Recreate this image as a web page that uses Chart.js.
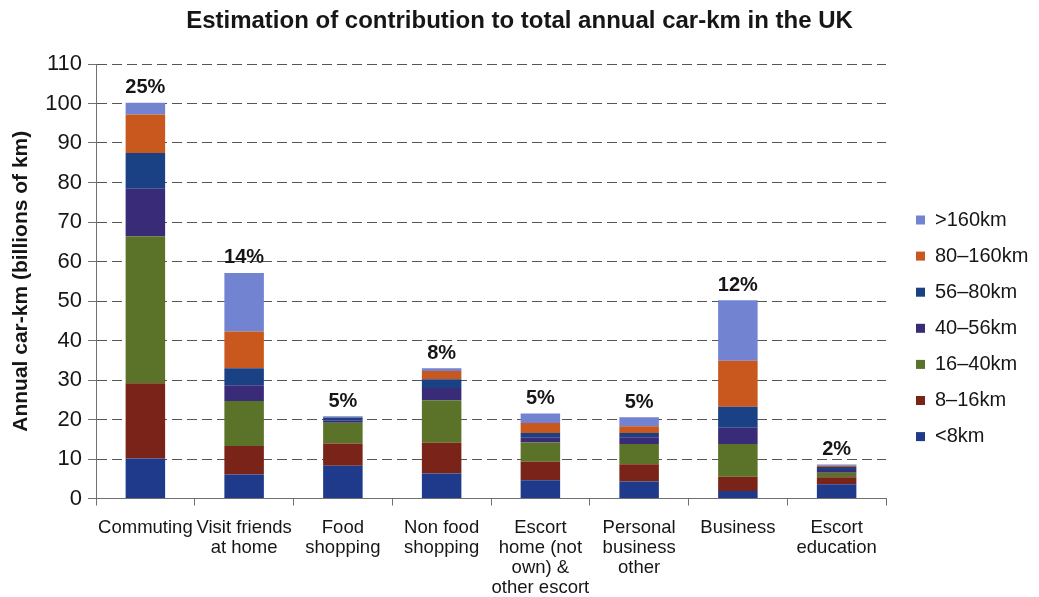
<!DOCTYPE html>
<html>
<head>
<meta charset="utf-8">
<title>Estimation of contribution to total annual car-km in the UK</title>
<script src="https://cdn.jsdelivr.net/npm/chart.js@4.4.1/dist/chart.umd.min.js"></script>
<style>
  html, body { margin: 0; padding: 0; background: #ffffff; }
  #wrap { width: 1039px; height: 597px; position: relative; }
</style>
</head>
<body>
<div id="wrap"><canvas id="c" width="1039" height="597"></canvas></div>
<script>
// Journey purposes (x categories), multi-line where the label wraps
const categories = [
  'Commuting',
  ['Visit friends', 'at home'],
  ['Food', 'shopping'],
  ['Non food', 'shopping'],
  ['Escort', 'home (not', 'own) &', 'other escort'],
  ['Personal', 'business', 'other'],
  'Business',
  ['Escort', 'education']
];

// Trip-length bands, bottom of the stack first
const bandLabels = ['<8km', '8–16km', '16–40km', '40–56km', '56–80km', '80–160km', '>160km'];
const bandColors = ['#1f3a8a', '#7a2419', '#5b7229', '#3a2b78', '#1b4185', '#c9581f', '#7283d2'];

// Annual car-km, billions of km, per purpose
const under8km   = [10.1, 6.1, 8.3, 6.3, 4.6, 4.3, 1.9, 3.6];
const km8to16    = [19.1, 7.2, 5.6, 7.8, 4.7, 4.4, 3.6, 1.8];
const km16to40   = [37.2, 11.4, 5.3, 10.8, 4.9, 5.1, 8.3, 1.1];
const km40to56   = [12.0, 4.0, 0.5, 3.1, 1.2, 1.7, 4.1, 0.7];
const km56to80   = [9.1, 4.3, 0.8, 2.2, 1.2, 1.1, 5.3, 0.8];
const km80to160  = [9.7, 9.3, 0.1, 2.1, 2.5, 1.7, 11.7, 0.3];
const over160km  = [3.0, 14.8, 0.2, 0.7, 2.4, 2.3, 15.3, 0.3];

// Share of total annual car-km, shown above each stack
const shareLabels = ['25%', '14%', '5%', '8%', '5%', '5%', '12%', '2%'];

// Value axis
const yMin = 0, yMax = 110, yStep = 10;

const bandValues = [under8km, km8to16, km16to40, km40to56, km56to80, km80to160, over160km];
const FONT = "'Liberation Sans', Arial, sans-serif";
const INK = '#161616';

const datasets = bandLabels.map((label, i) => ({
  label: label,
  data: bandValues[i],
  backgroundColor: bandColors[i],
  borderWidth: 0,
  barPercentage: 0.4,
  categoryPercentage: 1.0,
  stack: 'all'
}));

// Chart heading
const headline = {
  id: 'headline',
  afterDraw(chart) {
    const ctx = chart.ctx;
    ctx.save();
    ctx.font = 'bold 24px ' + FONT;
    ctx.fillStyle = INK;
    ctx.textAlign = 'center';
    ctx.textBaseline = 'middle';
    ctx.fillText('Estimation of contribution to total annual car-km in the UK', 519.5, 21);
    ctx.restore();
  }
};

// Percentage share above each stack
const shares = {
  id: 'shares',
  afterDatasetsDraw(chart) {
    const ctx = chart.ctx;
    const y = chart.scales.y;
    const topMeta = chart.getDatasetMeta(chart.data.datasets.length - 1);
    ctx.save();
    ctx.font = 'bold 20px ' + FONT;
    ctx.fillStyle = INK;
    ctx.textAlign = 'center';
    ctx.textBaseline = 'middle';
    shareLabels.forEach((txt, i) => {
      const total = bandValues.reduce((s, arr) => s + arr[i], 0);
      const x = topMeta.data[i].x;
      ctx.fillText(txt, x, y.getPixelForValue(total) - 15);
    });
    ctx.restore();
  }
};

// Key at the right, largest band first
const keyBox = {
  id: 'keyBox',
  afterDraw(chart) {
    const ctx = chart.ctx;
    const sets = chart.data.datasets;
    ctx.save();
    ctx.font = '20px ' + FONT;
    ctx.textAlign = 'left';
    ctx.textBaseline = 'middle';
    for (let k = 0; k < sets.length; k++) {
      const ds = sets[sets.length - 1 - k];
      const cy = 220 + k * 36.1;
      ctx.fillStyle = ds.backgroundColor;
      ctx.fillRect(916, cy - 4.5, 9, 9);
      ctx.fillStyle = INK;
      ctx.fillText(ds.label, 935, cy);
    }
    ctx.restore();
  }
};

new Chart(document.getElementById('c'), {
  type: 'bar',
  data: { labels: categories, datasets: datasets },
  options: {
    responsive: false,
    animation: false,
    devicePixelRatio: 1,
    layout: { padding: { top: 64, right: 153, bottom: 0, left: 0 } },
    plugins: {
      legend: { display: false },
      title: { display: false },
      tooltip: { enabled: false }
    },
    scales: {
      x: {
        stacked: true,
        offset: true,
        grid: {
          offset: true,
          drawOnChartArea: false,
          drawTicks: true,
          tickLength: 7,
          tickColor: '#707070',
          lineWidth: 1
        },
        border: { display: true, color: '#707070', width: 1 },
        ticks: {
          autoSkip: false,
          maxRotation: 0,
          minRotation: 0,
          padding: 12,
          color: INK,
          font: { family: FONT, size: 18.5, lineHeight: '20px' }
        },
        afterFit(scale) { scale.height = 98.5; }
      },
      y: {
        stacked: true,
        min: yMin,
        max: yMax,
        grid: {
          color: '#555555',
          lineWidth: 1,
          drawTicks: true,
          tickLength: 8,
          tickColor: '#707070'
        },
        border: { display: true, color: '#707070', width: 1, dash: [10, 5] },
        ticks: {
          stepSize: yStep,
          padding: 6,
          color: INK,
          font: { family: FONT, size: 22 }
        },
        title: {
          display: true,
          text: 'Annual car-km (billions of km)',
          color: INK,
          font: { family: FONT, size: 21, weight: 'bold' },
          padding: { top: 9, bottom: 0 }
        },
        afterFit(scale) { scale.width = 96; }
      }
    }
  },
  plugins: [headline, shares, keyBox]
});
</script>
</body>
</html>
